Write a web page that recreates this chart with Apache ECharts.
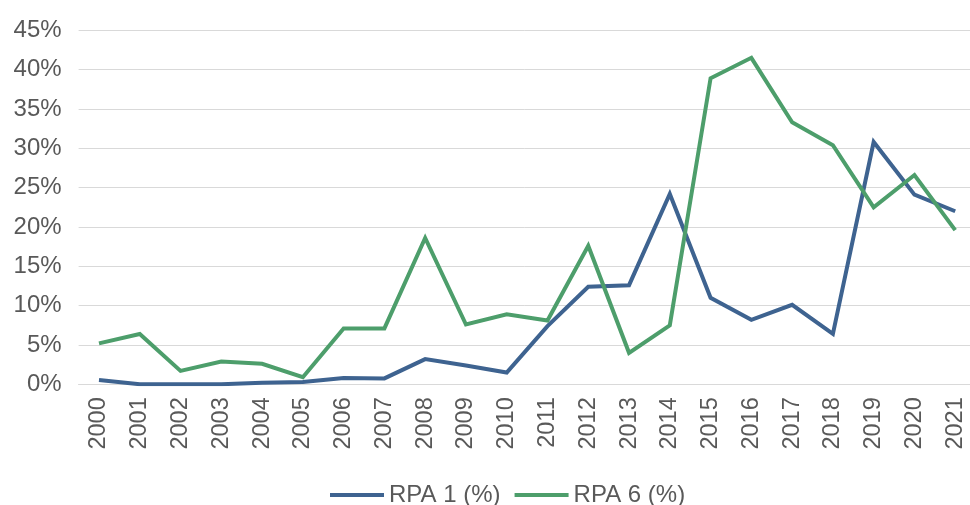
<!DOCTYPE html>
<html>
<head>
<meta charset="utf-8">
<script src="https://cdn.jsdelivr.net/npm/echarts@6/dist/echarts.min.js"></script>
<style>
  html, body { margin: 0; padding: 0; background: #ffffff; }
  #chart { width: 970px; height: 505px; }
</style>
</head>
<body>
<div id="chart"></div>
<script>
// Years on the category axis
const years = ['2000','2001','2002','2003','2004','2005','2006','2007','2008','2009','2010',
               '2011','2012','2013','2014','2015','2016','2017','2018','2019','2020','2021'];

// Share per year, in percent
const rpa1 = [0.55, 0.0, 0.0, 0.0, 0.2, 0.3, 0.8, 0.75, 3.2, 2.4, 1.5,
              7.4, 12.4, 12.6, 24.2, 11.0, 8.2, 10.1, 6.4, 30.8, 24.1, 22.0];
const rpa6 = [5.2, 6.4, 1.7, 2.9, 2.6, 0.9, 7.1, 7.1, 18.6, 7.6, 8.9,
              8.1, 17.6, 4.0, 7.5, 38.9, 41.5, 33.3, 30.4, 22.5, 26.6, 19.6];

const seriesNames = ['RPA 1 (%)', 'RPA 6 (%)'];
const yTicks = { min: 0, max: 45, interval: 5 };

const textColor = '#595959';
const fontFamily = '"Liberation Sans", Arial, sans-serif';
const blue = '#3e6390';
const green = '#4d9e6b';

const chart = echarts.init(document.getElementById('chart'), null, { renderer: 'canvas' });

chart.setOption({
  animation: false,
  backgroundColor: '#ffffff',
  textStyle: { fontFamily: fontFamily },
  // the plot runs slightly past the right edge, so the last category is centred near it
  grid: {
    left: 78.6, width: 897, top: 30.3, bottom: 120.7,
    containLabel: false,
    outerBoundsMode: 'none'
  },
  legend: {
    left: 325,
    top: 478,
    icon: 'rect',
    itemWidth: 54,
    itemHeight: 4,
    itemGap: 14,
    textStyle: { color: textColor, fontSize: 24, fontFamily: fontFamily },
    data: seriesNames
  },
  xAxis: {
    type: 'category',
    data: years,
    boundaryGap: true,
    axisLine: { show: true, lineStyle: { color: '#d9d9d9', width: 1 } },
    axisTick: { show: false },
    axisLabel: {
      rotate: 90,
      margin: 13,
      color: textColor,
      fontSize: 23.5,
      fontFamily: fontFamily,
      interval: 0
    }
  },
  yAxis: {
    type: 'value',
    min: yTicks.min,
    max: yTicks.max,
    interval: yTicks.interval,
    axisLine: { show: false },
    axisTick: { show: false },
    splitLine: { lineStyle: { color: '#d9d9d9', width: 1 } },
    axisLabel: {
      margin: 17,
      color: textColor,
      fontSize: 24,
      fontFamily: fontFamily,
      formatter: v => v + '%'
    }
  },
  series: [
    {
      name: seriesNames[0],
      type: 'line',
      data: rpa1,
      symbol: 'none',
      color: blue,
      lineStyle: { width: 4, color: blue, join: 'miter' }
    },
    {
      name: seriesNames[1],
      type: 'line',
      data: rpa6,
      symbol: 'none',
      color: green,
      lineStyle: { width: 4, color: green, join: 'miter' }
    }
  ]
});
</script>
</body>
</html>
